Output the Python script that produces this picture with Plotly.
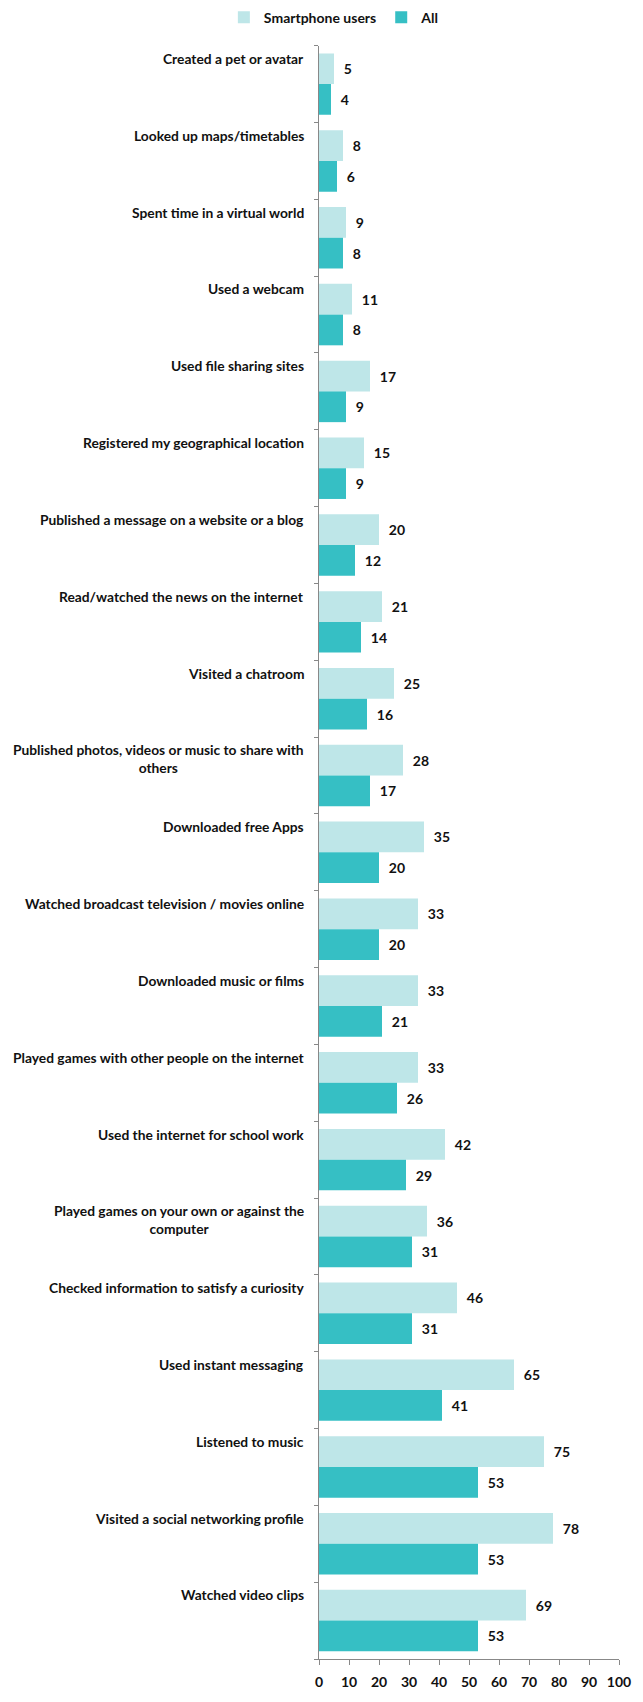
import plotly.graph_objects as go

categories = [
    "Created a pet or avatar",
    "Looked up maps/timetables",
    "Spent time in a virtual world",
    "Used a webcam",
    "Used file sharing sites",
    "Registered my geographical location",
    "Published a message on a website or a blog",
    "Read/watched the news on the internet",
    "Visited a chatroom",
    "Published photos, videos or music to share with<br>others",
    "Downloaded free Apps",
    "Watched broadcast television / movies online",
    "Downloaded music or films",
    "Played games with other people on the internet",
    "Used the internet for school work",
    "Played games on your own or against the<br>computer",
    "Checked information to satisfy a curiosity",
    "Used instant messaging",
    "Listened to music",
    "Visited a social networking profile",
    "Watched video clips",
]
smartphone = [5, 8, 9, 11, 17, 15, 20, 21, 25, 28, 35, 33, 33, 33, 42, 36, 46, 65, 75, 78, 69]
all_users = [4, 6, 8, 8, 9, 9, 12, 14, 16, 17, 20, 20, 21, 26, 29, 31, 31, 41, 53, 53, 53]
x_ticks = [0, 10, 20, 30, 40, 50, 60, 70, 80, 90, 100]

FONT = "Lato"
LIGHT = "#BEE6E8"
DARK = "#36BFC4"

idx = list(range(len(categories)))

fig = go.Figure()
fig.add_trace(go.Bar(
    y=idx, x=smartphone, orientation="h", name="Smartphone users",
    marker=dict(color=LIGHT, line=dict(width=0)),
    texttemplate="\u00a0\u00a0%{x}", textposition="outside",
    textfont=dict(family=FONT, size=14, color="#111111", weight="bold"),
    cliponaxis=False,
))
fig.add_trace(go.Bar(
    y=idx, x=all_users, orientation="h", name="All",
    marker=dict(color=DARK, line=dict(width=0)),
    texttemplate="\u00a0\u00a0%{x}", textposition="outside",
    textfont=dict(family=FONT, size=14, color="#111111", weight="bold"),
    cliponaxis=False,
))

annotations = []
for i, c in enumerate(categories):
    annotations.append(dict(
        xref="paper", yref="y", x=0, y=i - 0.47, xanchor="right", yanchor="top",
        xshift=-13, text=c, showarrow=False, align="center",
        font=dict(family=FONT, size=13.8, color="#111111", weight="bold"),
    ))

fig.update_layout(
    width=643, height=1702,
    margin=dict(l=319, r=20, t=45, b=31),
    paper_bgcolor="white", plot_bgcolor="white",
    barmode="group", bargap=0.2, bargroupgap=0,
    font=dict(family=FONT, size=14, color="#111111"),
    showlegend=True,
    legend=dict(
        orientation="h", xref="container", yref="container",
        x=0.52, xanchor="center", y=0.999, yanchor="top",
        font=dict(family=FONT, size=14, color="#111111", weight="bold"),
        itemwidth=30, traceorder="normal",
    ),
    annotations=annotations,
)
fig.update_xaxes(
    range=[0, 100], tickvals=x_ticks, showgrid=False, zeroline=False,
    showline=True, linecolor="#888888", linewidth=1,
    ticks="outside", ticklen=5, tickcolor="#888888", ticklabelstandoff=5,
    tickfont=dict(family=FONT, size=14, color="#111111", weight="bold"),
)
fig.update_yaxes(
    range=[len(categories) - 0.5, -0.5], showticklabels=False, showgrid=False,
    zeroline=False, showline=True, linecolor="#888888", linewidth=1,
    ticks="outside", ticklen=4, tickcolor="#888888",
    tickvals=[i - 0.5 for i in idx] + [len(categories) - 0.5],
)

fig.write_html(
    "out.html",
    config={"displayModeBar": False},
    post_script="document.body.style.margin='0px';document.body.style.overflow='hidden';",
)
